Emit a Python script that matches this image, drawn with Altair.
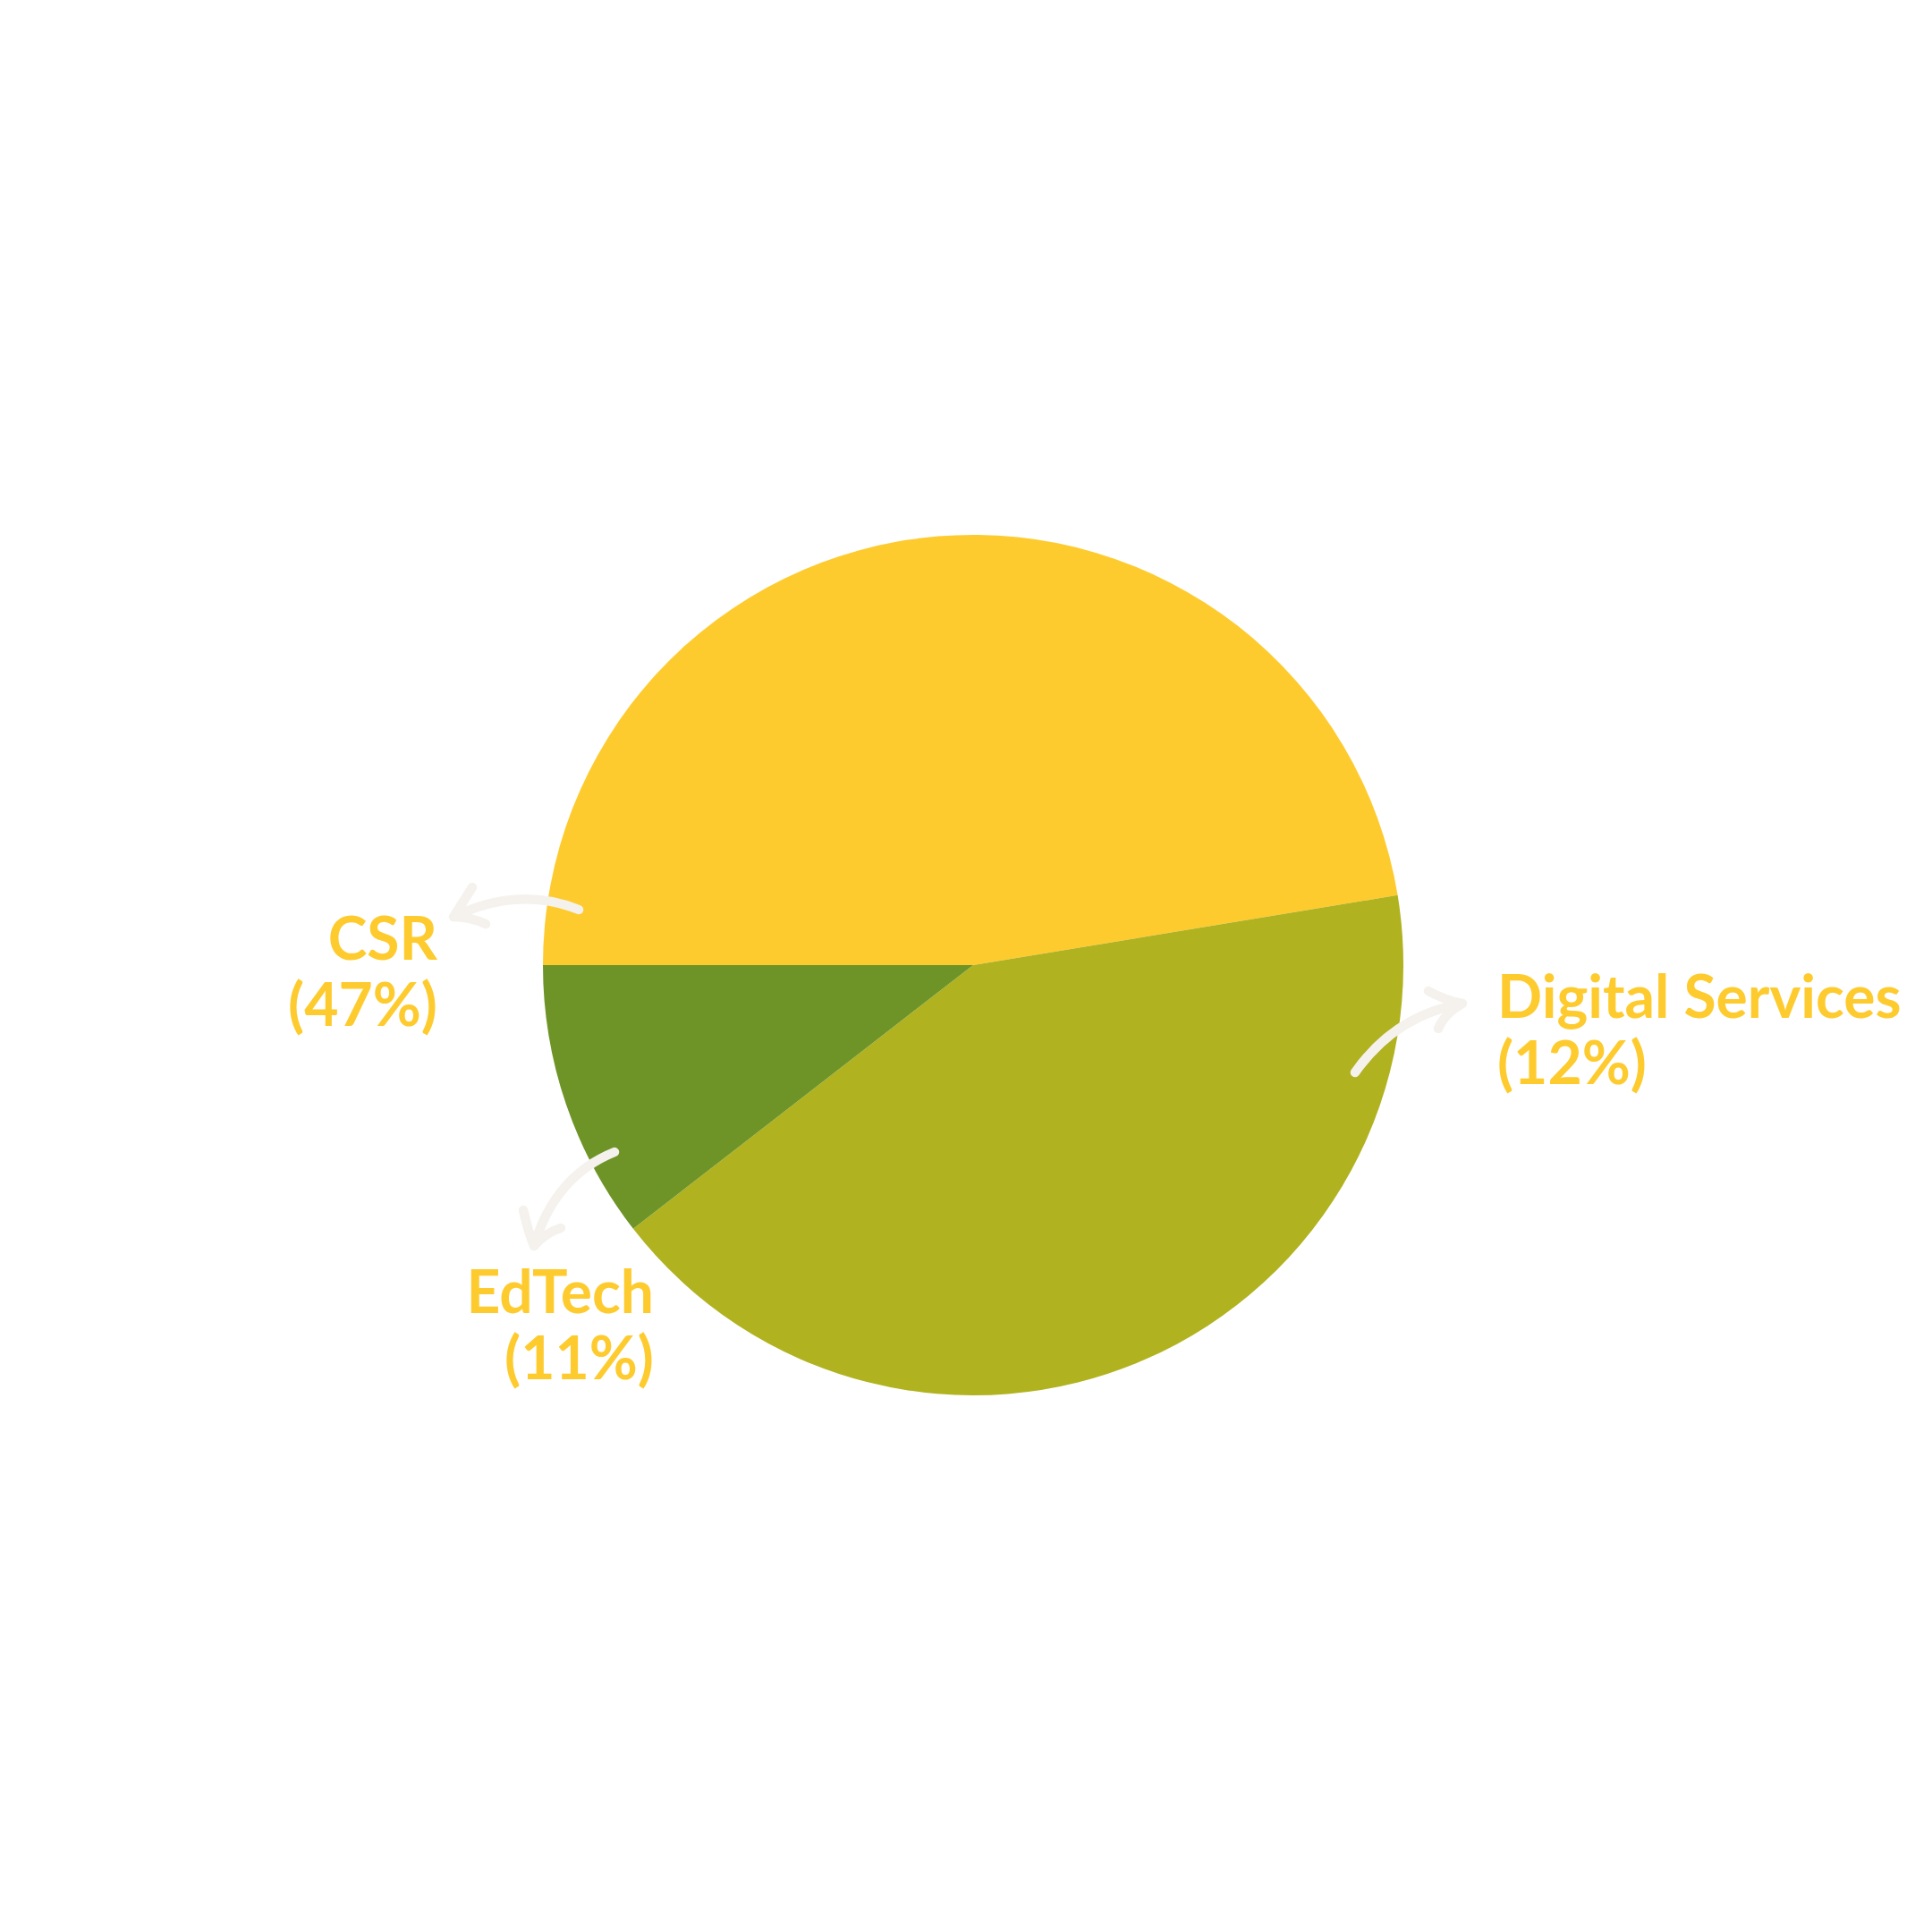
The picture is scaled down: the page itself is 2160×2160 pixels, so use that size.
import math
import altair as alt
import pandas as pd

# ---- data ----
categories = ["CSR", "Digital Services", "EdTech"]
shares = [47.4, 42.1, 10.5]               # slice sizes as drawn (angles)
label_pcts = ["47%", "12%", "11%"]        # percentages as printed on the labels
colors = ["#FECB2F", "#B1B220", "#6E9428"]

df = pd.DataFrame({
    "category": categories,
    "share": shares,
    "pct": label_pcts,
    "order": list(range(len(categories))),
})
df["label"] = df["category"] + "\n(" + df["pct"] + ")"

# ---- layout ----
CX, CY, R = 1088, 1079, 481
TEXT_COLOR = "#FECB2F"
ARROW_COLOR = "#F5F2EE"

pie = alt.Chart(df).mark_arc(outerRadius=R).encode(
    theta=alt.Theta("share:Q", stack=True,
                    scale=alt.Scale(range=[-math.pi / 2, 1.5 * math.pi])),
    color=alt.Color("category:N",
                    scale=alt.Scale(domain=categories, range=colors),
                    legend=None),
    order=alt.Order("order:Q"),
    x=alt.value(CX),
    y=alt.value(CY),
)

label_layout = {
    "CSR": (489, 1073, "right"),
    "Digital Services": (1674, 1138, "left"),
    "EdTech": (731, 1468, "right"),
}

arrow_paths = {
    "CSR": "M647,1017 Q580,990 507,1025 M528,992 Q518,1008 507,1025 Q525,1025 543,1033",
    "Digital Services": "M1515,1199 Q1560,1135 1635,1122 M1597,1108 Q1615,1118 1635,1122 Q1615,1133 1608,1150",
    "EdTech": "M687,1288 Q620,1315 597,1393 M585,1353 Q590,1375 597,1393 Q610,1378 627,1373",
}

layers = [pie]
for cat in categories:
    layers.append(
        alt.Chart(df).transform_filter(alt.datum.category == cat).mark_point(
            shape=arrow_paths[cat], size=4, filled=False, stroke=ARROW_COLOR,
            strokeWidth=10.5, strokeCap="round", strokeJoin="round", opacity=1,
        ).encode(x=alt.value(0), y=alt.value(0))
    )

for cat in categories:
    lx, ly, al = label_layout[cat]
    layers.append(
        alt.Chart(df).transform_filter(alt.datum.category == cat).mark_text(
            align=al, baseline="alphabetic", lineBreak="\n", lineHeight=74,
            font="Lato", fontWeight="bold", fontSize=66, color=TEXT_COLOR,
        ).encode(x=alt.value(lx), y=alt.value(ly), text="label:N")
    )

chart = alt.layer(*layers).properties(
    width=2160, height=2160,
    autosize=alt.AutoSizeParams(type="none"),
    padding=0,
    background="white",
).configure_view(strokeWidth=0)

chart.save("out.html", embed_options={"renderer": "svg", "actions": False})
